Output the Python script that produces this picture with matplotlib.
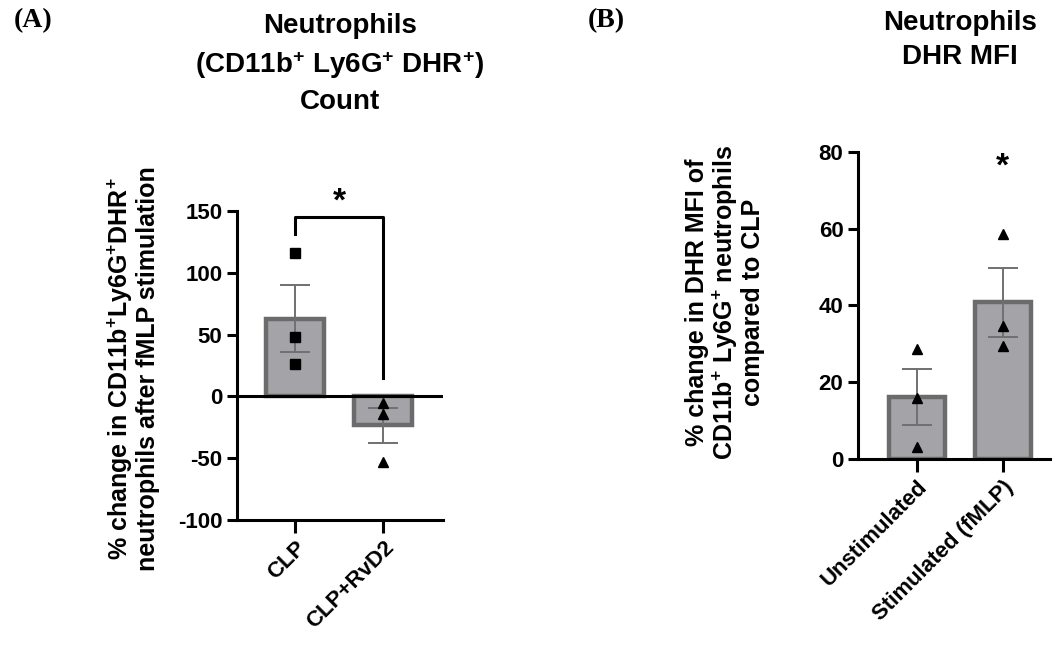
import matplotlib
matplotlib.use("Agg")
import matplotlib.pyplot as plt

plt.rcParams['font.family'] = ['Liberation Sans', 'DejaVu Sans']
plt.rcParams['font.weight'] = 'bold'
plt.rcParams['axes.unicode_minus'] = False
plt.rcParams['mathtext.fontset'] = 'custom'
plt.rcParams['mathtext.rm'] = 'Liberation Sans:bold'
plt.rcParams['mathtext.bf'] = 'Liberation Sans:bold'
plt.rcParams['mathtext.default'] = 'bf'

# Panel A data
groups_a = ["CLP", "CLP+RvD2"]
mean_a = [63, -23.5]
sem_a = [27, 14.5]
points_a = [[116, 48, 26], [-5, -14, -53]]
markers_a = ["s", "^"]

# Panel B data
groups_b = ["Unstimulated", "Stimulated (fMLP)"]
mean_b = [16.2, 40.8]
sem_b = [7.3, 9.0]
points_b = [[28.7, 16, 3], [58.6, 34.6, 29.4]]
markers_b = ["^", "^"]

bar_fill = "#a4a4a8"
bar_edge = "#6b6b6b"
err_col = "#707070"

fig = plt.figure(figsize=(10.57, 6.45), dpi=100)
axA = fig.add_axes([0.2242, 0.1938, 0.1949, 0.4791])
axB = fig.add_axes([0.8117, 0.2884, 0.1816, 0.4760])


def style(ax):
    for s in ["top", "right"]:
        ax.spines[s].set_visible(False)
    for s in ["left", "bottom"]:
        ax.spines[s].set_linewidth(2.2)
    ax.tick_params(axis="both", width=2.2, length=7, labelsize=16)
    ax.tick_params(axis="x", length=9)
    for lab in ax.get_yticklabels():
        lab.set_fontweight("bold")


def draw(ax, groups, means, sems, points, markers):
    xs = range(len(groups))
    ax.bar(xs, means, width=0.66, color=bar_fill, edgecolor=bar_edge,
           linewidth=3.2, zorder=2)
    ax.errorbar(xs, means, yerr=sems, fmt="none", ecolor=err_col,
                elinewidth=1.4, capsize=10.5, capthick=1.4, zorder=3)
    for x, pts, m in zip(xs, points, markers):
        ax.plot([x] * len(pts), pts, linestyle="none", marker=m,
                color="black", markersize=7, zorder=4, clip_on=False)
    ax.set_xticks(list(xs))
    ax.set_xticklabels(groups, rotation=45, ha="right",
                       rotation_mode="anchor", fontsize=16.5,
                       fontweight="bold")


# Panel A
draw(axA, groups_a, mean_a, sem_a, points_a, markers_a)
axA.set_xlim(-0.66, 1.68)
axA.set_ylim(-100, 150)
axA.set_yticks([-100, -50, 0, 50, 100, 150])
style(axA)
axA.axhline(0, color="black", linewidth=2.2, zorder=5)
axA.set_ylabel("% change in CD11b$^{+}$Ly6G$^{+}$DHR$^{+}$\n"
               "neutrophils after fMLP stimulation",
               fontsize=18, fontweight="bold", va="center",
               linespacing=1.05)
axA.yaxis.set_label_coords(-0.505, 0.49)
axA.plot([0, 0, 1, 1], [131, 145, 145, 15], color="black",
         linewidth=2.2, clip_on=False, zorder=5)
axA.text(0.5, 157, "*", ha="center", va="center", fontsize=24,
         fontweight="bold", clip_on=False)

# Panel B
draw(axB, groups_b, mean_b, sem_b, points_b, markers_b)
axB.set_xlim(-0.69, 1.55)
axB.set_ylim(0, 80)
axB.set_yticks([0, 20, 40, 60, 80])
style(axB)
axB.set_ylabel("% change in DHR MFI of\nCD11b$^{+}$ Ly6G$^{+}$ neutrophils\n"
               "compared to CLP", fontsize=18, fontweight="bold",
               va="center", linespacing=1.05)
axB.yaxis.set_label_coords(-0.693, 0.51)
axB.text(1, 76, "*", ha="center", va="center", fontsize=24,
         fontweight="bold", clip_on=False)

# Titles and panel letters
fig.text(340 / 1057, 1 - 64 / 645,
         "Neutrophils\n(CD11b$^{+}$ Ly6G$^{+}$ DHR$^{+}$)\nCount",
         ha="center", va="center", fontsize=20, fontweight="bold",
         linespacing=1.42)
fig.text(960 / 1057, 1 - 40 / 645, "Neutrophils\nDHR MFI",
         ha="center", va="center", fontsize=20, fontweight="bold",
         linespacing=1.42)
fig.text(14 / 1057, 1 - 21 / 645, "(A)", ha="left", va="center",
         fontsize=20, fontweight="bold", family="Liberation Serif")
fig.text(588 / 1057, 1 - 21 / 645, "(B)", ha="left", va="center",
         fontsize=20, fontweight="bold", family="Liberation Serif")

fig.savefig("out.png", dpi=100)
